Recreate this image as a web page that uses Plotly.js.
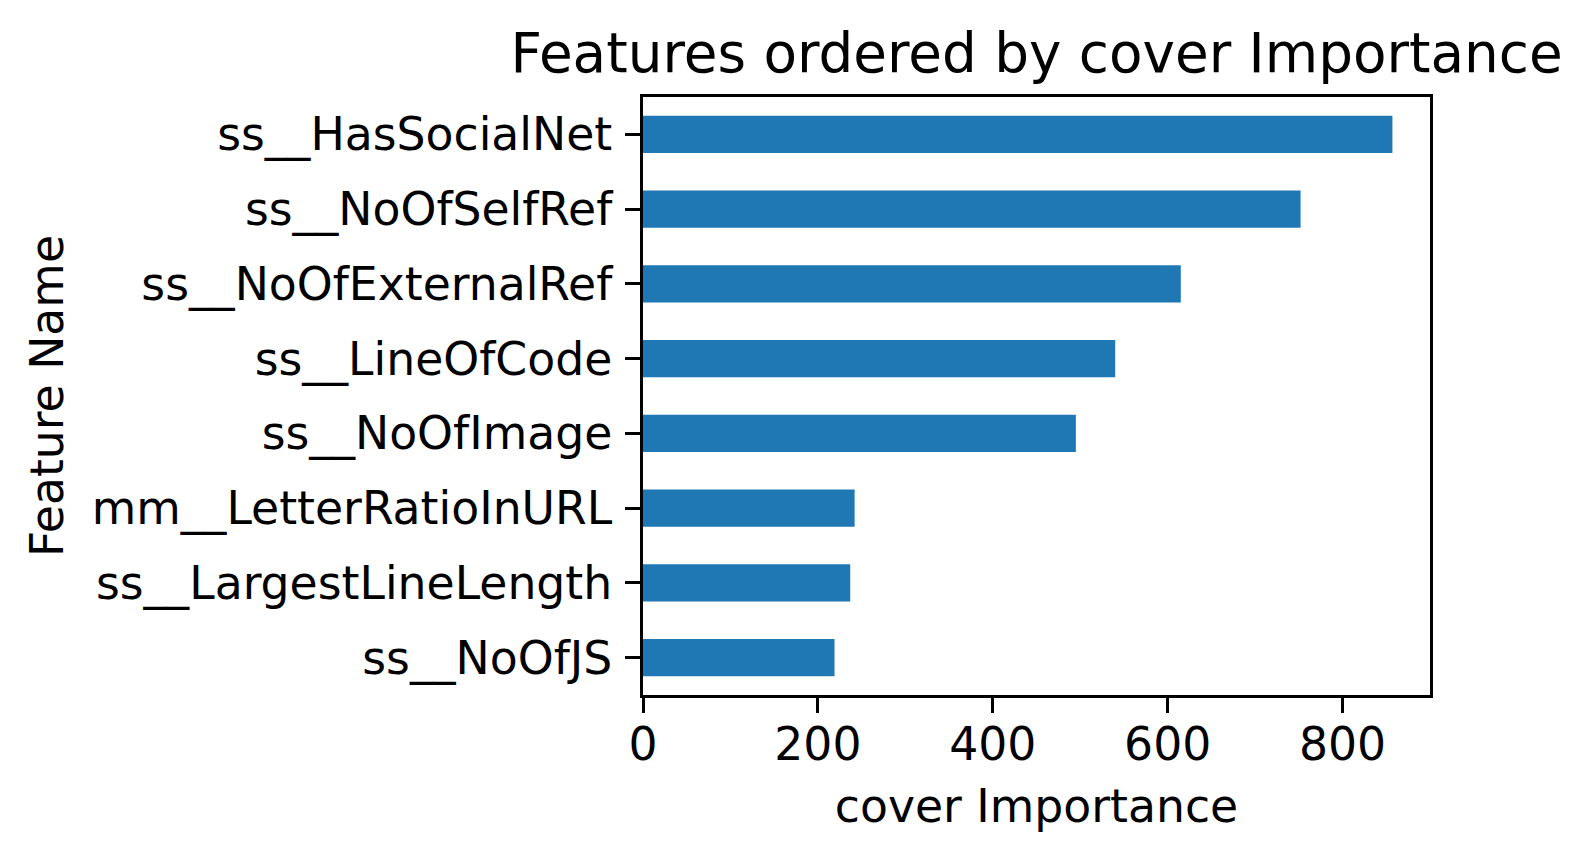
<!DOCTYPE html>
<html>
<head>
<meta charset="utf-8">
<script src="https://cdn.plot.ly/plotly-3.0.1.min.js"></script>
<style>html,body{margin:0;padding:0;background:#fff;}#chart{width:1593px;height:861px;}</style>
</head>
<body>
<div id="chart"></div>
<script>
const features = [
  "ss__NoOfJS",
  "ss__LargestLineLength",
  "mm__LetterRatioInURL",
  "ss__NoOfImage",
  "ss__LineOfCode",
  "ss__NoOfExternalRef",
  "ss__NoOfSelfRef",
  "ss__HasSocialNet"
];
const importance = [219, 237, 242, 495, 540, 615, 752, 857];
const xTickVals = [0, 200, 400, 600, 800];

const FONT = "DejaVu Sans, sans-serif";
const TICK = 45.7;
const data = [{
  type: "bar",
  orientation: "h",
  y: features,
  x: importance,
  width: 0.5,
  marker: {color: "#1f77b4", line: {width: 0}},
  hoverinfo: "x+y"
}];

const layout = {
  width: 1593, height: 861,
  paper_bgcolor: "#fff", plot_bgcolor: "#fff",
  margin: {l: 643, r: 163, t: 97, b: 166, pad: 0},
  showlegend: false,
  font: {family: FONT, color: "#000"},
  title: {
    text: "Features ordered by cover Importance",
    font: {family: FONT, size: 54.8, color: "#000"},
    x: 0.5, xref: "paper", xanchor: "center",
    y: 1 - 53/861, yref: "container", yanchor: "middle"
  },
  xaxis: {
    range: [0, 900],
    tickvals: xTickVals,
    ticktext: xTickVals.map(String),
    ticks: "outside", ticklen: 14.6, tickwidth: 3, tickcolor: "#000",
    showline: true, linecolor: "#000", linewidth: 3, mirror: true,
    showgrid: false, zeroline: false,
    ticklabelstandoff: -7,
    tickfont: {family: FONT, size: TICK, color: "#000"},
    title: {text: "cover Importance", font: {family: FONT, size: TICK, color: "#000"}, standoff: 20},
    fixedrange: true
  },
  yaxis: {
    type: "category",
    categoryorder: "array",
    categoryarray: features,
    range: [-0.5, 7.5],
    ticks: "outside", ticklen: 14.6, tickwidth: 3, tickcolor: "#000",
    showline: true, linecolor: "#000", linewidth: 3, mirror: true,
    showgrid: false, zeroline: false,
    ticklabelstandoff: 4,
    tickfont: {family: FONT, size: TICK, color: "#000"},
    title: {text: "Feature Name", font: {family: FONT, size: TICK, color: "#000"}, standoff: 14},
    fixedrange: true
  }
};

Plotly.newPlot("chart", data, layout, {displayModeBar: false, staticPlot: true});
</script>
</body>
</html>
